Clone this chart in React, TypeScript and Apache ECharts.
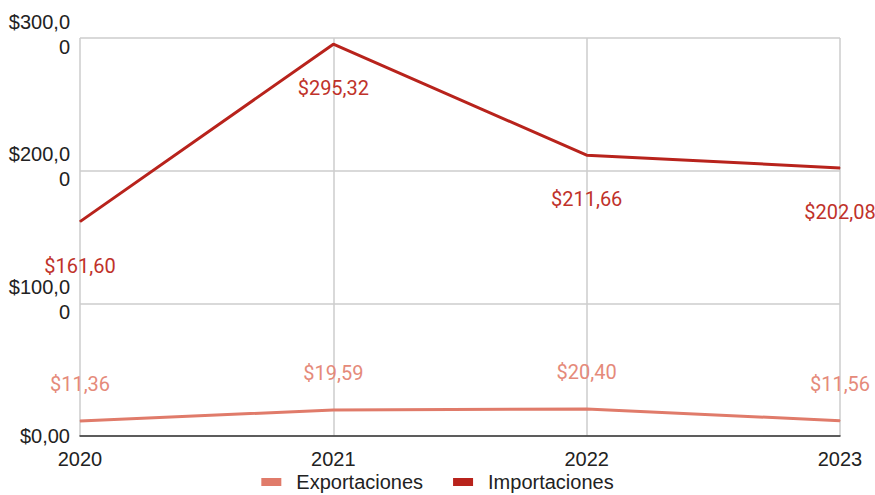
import React, { useEffect, useRef } from "react";
import * as echarts from "echarts";

const years = ["2020", "2021", "2022", "2023"];
const exportaciones = [11.36, 19.59, 20.4, 11.56];
const importaciones = [161.6, 295.32, 211.66, 202.08];
const yTickLabels: Record<number, string> = {
  0: "{a|$0,00}",
  100: "{a|$100,0}\n{a|0}\n{e| }",
  200: "{a|$200,0}\n{a|0}\n{e| }",
  300: "{a|$300,0}\n{a|0}\n{e| }",
};

const fmt = (v: number) => "$" + v.toFixed(2).replace(".", ",");

export default function App() {
  const ref = useRef<HTMLDivElement>(null);
  useEffect(() => {
    if (!ref.current) return;
    const chart = echarts.init(ref.current, undefined, { renderer: "svg" });
    const axisFont = "'Liberation Sans', Arial, sans-serif";
    chart.setOption({
      animation: false,
      backgroundColor: "#ffffff",
      grid: { left: 80, right: 35, top: 38, bottom: 59, containLabel: false },
      legend: {
        bottom: -2,
        left: "center",
        itemWidth: 20,
        itemHeight: 8,
        itemGap: 30,
        icon: "rect",
        textStyle: {
          fontFamily: axisFont,
          fontSize: 20,
          color: "#222",
          padding: [0, 0, 0, 10],
        },
        data: ["Exportaciones", "Importaciones"],
      },
      xAxis: {
        type: "category",
        data: years,
        boundaryGap: false,
        axisLine: { show: true, lineStyle: { color: "#333", width: 1.5 } },
        axisTick: { show: false },
        axisLabel: { fontFamily: axisFont, fontSize: 20, color: "#222", margin: 13 },
        splitLine: { show: true, lineStyle: { color: "#cccccc", width: 1.5 } },
      },
      yAxis: {
        type: "value",
        min: 0,
        max: 300,
        interval: 100,
        axisLine: { show: false },
        axisTick: { show: false },
        axisLabel: {
          fontFamily: axisFont,
          fontSize: 20,
          color: "#222",
          margin: 10,
          formatter: (v: number) => yTickLabels[v] ?? String(v),
          rich: {
            a: {
              fontFamily: axisFont,
              fontSize: 20,
              color: "#222",
              lineHeight: 25,
              align: "right",
            },
            e: { fontSize: 1, lineHeight: 8 },
          },
        },
        splitLine: { show: true, lineStyle: { color: "#cccccc", width: 1.5 } },
      },
      series: [
        {
          name: "Exportaciones",
          type: "line",
          data: exportaciones,
          color: "#e07b6a",
          lineStyle: { color: "#e07b6a", width: 3 },
          symbol: "circle",
          symbolSize: 1,
          itemStyle: { color: "#e07b6a" },
          label: {
            show: true,
            position: "inside",
            offset: [0, -37],
            fontFamily: "Roboto, sans-serif",
            fontSize: 20,
            color: "#e58a7a",
            formatter: (p: any) => fmt(p.value),
          },
        },
        {
          name: "Importaciones",
          type: "line",
          data: importaciones,
          color: "#b8231c",
          lineStyle: { color: "#b8231c", width: 3 },
          symbol: "circle",
          symbolSize: 1,
          itemStyle: { color: "#b8231c" },
          label: {
            show: true,
            position: "inside",
            offset: [0, 44],
            fontFamily: "Roboto, sans-serif",
            fontSize: 20,
            color: "#c0322a",
            formatter: (p: any) => fmt(p.value),
          },
        },
      ],
    });
    return () => chart.dispose();
  }, []);
  return (
    <div
      ref={ref}
      style={{ position: "fixed", left: 0, top: 0, width: 875, height: 495 }}
    />
  );
}
